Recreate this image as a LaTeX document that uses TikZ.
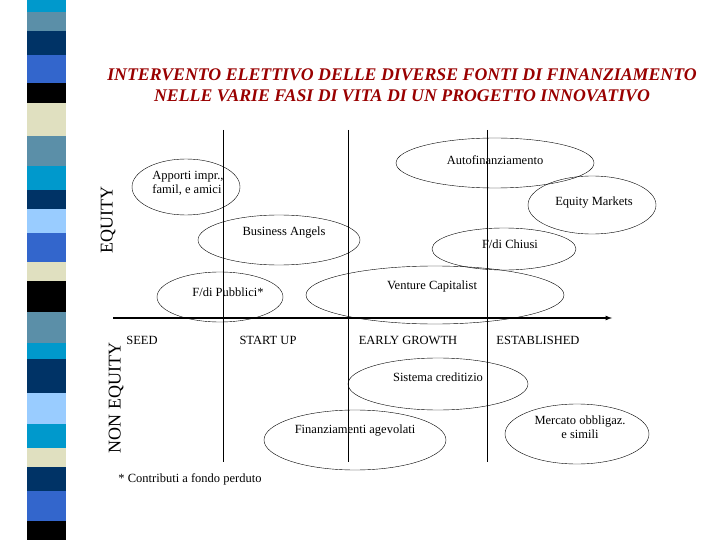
\documentclass[tikz,border=0pt]{standalone}
\usepackage{fontspec}
\setmainfont{Liberation Serif}
\definecolor{cya}{HTML}{0099CC}
\definecolor{stl}{HTML}{5B8FA8}
\definecolor{nav}{HTML}{003366}
\definecolor{roy}{HTML}{3366CC}
\definecolor{crm}{HTML}{E0E0C0}
\definecolor{lbl}{HTML}{99CCFF}
\definecolor{ttl}{HTML}{990000}
\begin{document}
\begin{tikzpicture}[x=1pt,y=-1pt,
  lab/.style={font=\fontsize{12.5}{14}\selectfont,align=center},
  phase/.style={font=\fontsize{12.5}{14}\selectfont}]
\useasboundingbox (0,0) rectangle (720,540);
\fill[white] (0,0) rectangle (720,540);
% stripes
\foreach \a/\b/\c in {0/12/cya,12/31/stl,31/55/nav,55/83/roy,83/103/black,103/136/crm,136/166/stl,166/190/cya,190/209/nav,209/233/lbl,233/262/roy,262/281/crm,281/312/black,312/343/stl,343/359/cya,359/393/nav,393/424/lbl,424/448/cya,448/467/crm,467/491/nav,491/521/roy,521/540/black}
  \fill[\c] (27,\a) rectangle (66,\b);
% title
\node[font=\bfseries\itshape\fontsize{17.8}{21}\selectfont,text=ttl,align=center] (title) at (402,85)
  {INTERVENTO ELETTIVO DELLE DIVERSE FONTI DI FINANZIAMENTO\\NELLE VARIE FASI DI VITA DI UN PROGETTO INNOVATIVO};
% axes
\coordinate (a0) at (113,318); \coordinate (a1) at (612,318);
\draw[line width=1.2pt,-latex] (a0) -- (a1);
\foreach \n/\x in {v1/223,v2/348,v3/487}{
  \coordinate (\n t) at (\x,130); \coordinate (\n b) at (\x,462);
  \draw (\n t) -- (\n b);}
% ellipses
\draw (495,163) ellipse (99 and 25);
\node[lab] (auto) at (495,160) {Autofinanziamento};
\draw (186,187) ellipse (54 and 28);
\node[lab,align=left] (app) at (188,183) {Apporti impr.,\\famil, e amici};
\draw (592,205) ellipse (64 and 29);
\node[lab] (eqm) at (594,203) {Equity Markets};
\draw (279,240) ellipse (81 and 25);
\node[lab] (ba) at (284,233) {Business Angels};
\draw (504,249) ellipse (72 and 21);
\node[lab] (fc) at (510,244) {F/di Chiusi};
\draw (220,297) ellipse (63 and 25);
\node[lab] (fp) at (228,292) {F/di Pubblici*};
\draw (435,295) ellipse (129 and 29);
\node[lab] (vc) at (432,286) {Venture Capitalist};
\draw (438,384) ellipse (90 and 26);
\node[lab] (sc) at (438,377) {Sistema creditizio};
\draw (355,440) ellipse (91 and 30);
\node[lab] (fa) at (355,431) {Finanziamenti agevolati};
\draw (577,434) ellipse (72 and 30);
\node[lab] (mo) at (580,427) {Mercato obbligaz.\\e simili};
% phases
\node[phase] (p1) at (142,340) {SEED};
\node[phase] (p2) at (268,340) {START UP};
\node[phase] (p3) at (408,340) {EARLY GROWTH};
\node[phase] (p4) at (538,340) {ESTABLISHED};
\node[phase] (foot) at (190,479) {* Contributi a fondo perduto};
\node[rotate=90,font=\fontsize{18}{20}\selectfont] (eq) at (108,220) {EQUITY};
\node[rotate=90,font=\fontsize{18}{20}\selectfont] (neq) at (116,398) {NON EQUITY};
\end{tikzpicture}
\end{document}
